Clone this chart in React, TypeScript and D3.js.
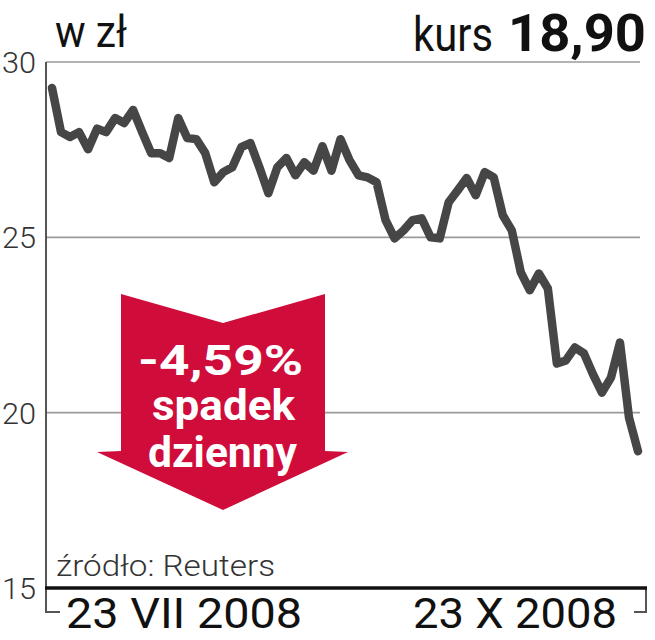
import React from "react";
import * as d3 from "d3";

// trading-day closes, 23 VII 2008 .. 23 X 2008
const values: number[] = [
  29.26, 28.0, 27.86, 28.0, 27.51, 28.1, 28.0, 28.4, 28.26, 28.63,
  28.0, 27.4, 27.4, 27.26, 28.4, 27.83, 27.8, 27.4, 26.57, 26.86,
  27.0, 27.57, 27.69, 27.0, 26.26, 27.0, 27.26, 26.77, 27.14, 26.9,
  27.6, 26.9, 27.8, 27.2, 26.77, 26.71, 26.57, 25.49, 24.97, 25.2,
  25.49, 25.54, 25.0, 24.97, 26.0, 26.34, 26.69, 26.2, 26.86, 26.71,
  25.63, 25.2, 24.0, 23.49, 23.97, 23.54, 21.4, 21.49, 21.86, 21.69,
  21.1, 20.57, 21.0, 22.0, 19.86, 18.9,
];
const yTicks: number[] = [15, 20, 25, 30];
const dateLabels: string[] = ["23 VII 2008", "23 X 2008"];
const unitLabel = "w zł";
const lastLabel = "kurs";
const lastValue = "18,90";
const sourceLabel = "źródło: Reuters";
const changeLines: string[] = ["-4,59%", "spadek", "dzienny"];

const FONT = "Roboto, 'Liberation Sans', Arial, sans-serif";

export default function App() {
  const W = 655, H = 640;
  const axisX = 46;
  const gridRight = 640;
  const x = d3.scaleLinear().domain([0, values.length - 1]).range([52, 638]);
  const y = d3.scaleLinear().domain([15, 30]).range([588, 62]);
  const line = d3
    .line<number>()
    .x((_, i) => x(i))
    .y((d) => y(d))
    .curve(d3.curveLinear);

  // arrow annotation (decorative)
  const ax = 223; // centre
  const arrow = [
    [ax - 102, 294],
    [ax, 323],
    [ax + 102, 294],
    [ax + 102, 451],
    [ax + 125, 452],
    [ax, 510],
    [ax - 126, 452],
    [ax - 102, 451],
  ];

  return (
    <svg width={W} height={H} style={{ display: "block", position: "absolute", left: 0, top: 0 }}>
      <rect width={W} height={H} fill="#fff" />
      {/* grid */}
      {yTicks
        .filter((t) => t !== 15)
        .map((t) => (
          <line key={t} x1={axisX} x2={gridRight} y1={y(t)} y2={y(t)} stroke="#9a9a9a" strokeWidth={1.6} />
        ))}
      {/* tick labels */}
      {yTicks.map((t) => (
        <text
          key={"l" + t}
          x={2}
          y={y(t) + 11}
          fontFamily={FONT}
          fontWeight={300}
          fontSize={30}
          fill="#333"
          textLength={34}
          lengthAdjust="spacingAndGlyphs"
        >
          {t}
        </text>
      ))}
      {/* vertical axis */}
      <line x1={axisX} x2={axisX} y1={y(30)} y2={612} stroke="#555" strokeWidth={2} />
      <line x1={axisX - 1} x2={60} y1={612} y2={612} stroke="#555" strokeWidth={2} />
      <line x1={646} x2={646} y1={y(15)} y2={612} stroke="#555" strokeWidth={2} />
      <line x1={634} x2={647} y1={612} y2={612} stroke="#555" strokeWidth={2} />

      {/* price line */}
      <path d={line(values) || ""} fill="none" stroke="#464646" strokeWidth={8.5} strokeLinejoin="round" strokeLinecap="round" />

      {/* arrow */}
      <polygon points={arrow.map((p) => p.join(",")).join(" ")} fill="#cf0c3a" />
      <text x={138} y={375} fontFamily={FONT} fontWeight={700} fontSize={43} fill="#fff" textLength={165} lengthAdjust="spacingAndGlyphs">
        {changeLines[0]}
      </text>
      <text x={152} y={420} fontFamily={FONT} fontWeight={700} fontSize={42} fill="#fff" textLength={143} lengthAdjust="spacingAndGlyphs">
        {changeLines[1]}
      </text>
      <text x={148} y={467} fontFamily={FONT} fontWeight={700} fontSize={42} fill="#fff" textLength={149} lengthAdjust="spacingAndGlyphs">
        {changeLines[2]}
      </text>

      {/* baseline axis */}
      <line x1={axisX - 1} x2={647} y1={y(15)} y2={y(15)} stroke="#111" strokeWidth={3.5} />

      {/* titles */}
      <text x={55} y={47} fontFamily={FONT} fontSize={44} fill="#111" textLength={72} lengthAdjust="spacingAndGlyphs">
        {unitLabel}
      </text>
      <text x={413} y={51} fontFamily={FONT} fontSize={48} fill="#111" textLength={80} lengthAdjust="spacingAndGlyphs">
        {lastLabel}
      </text>
      <text x={508} y={51} fontFamily={FONT} fontWeight={700} fontSize={52} fill="#111" textLength={138} lengthAdjust="spacingAndGlyphs">
        {lastValue}
      </text>

      <text x={56} y={576} fontFamily={FONT} fontWeight={300} fontSize={29} fill="#333" textLength={219} lengthAdjust="spacingAndGlyphs">
        {sourceLabel}
      </text>

      <text x={66} y={628} fontFamily={FONT} fontSize={42} fill="#111" textLength={236} lengthAdjust="spacingAndGlyphs">
        {dateLabels[0]}
      </text>
      <text x={413} y={628} fontFamily={FONT} fontSize={42} fill="#111" textLength={204} lengthAdjust="spacingAndGlyphs">
        {dateLabels[1]}
      </text>
    </svg>
  );
}
